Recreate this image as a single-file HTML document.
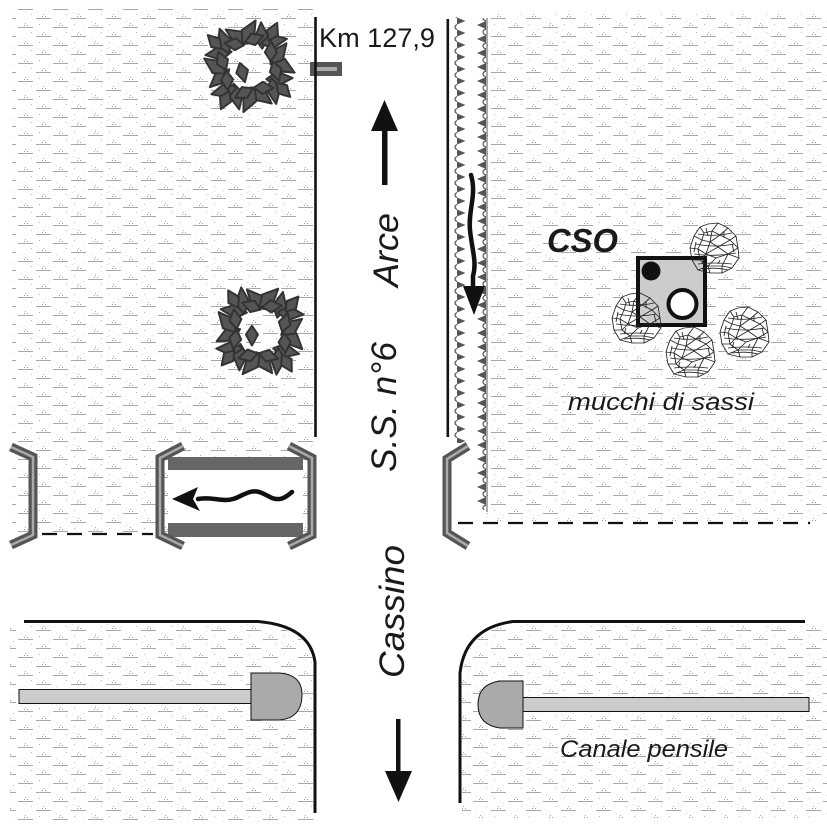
<!DOCTYPE html>
<html>
<head>
<meta charset="utf-8">
<style>
  html,body{margin:0;padding:0;background:#fff;}
  svg{display:block;}
  text{font-family:"Liberation Sans", Arial, sans-serif; fill:#1a1a1a;}
</style>
</head>
<body>
<svg xmlns="http://www.w3.org/2000/svg" width="827" height="827" viewBox="0 0 827 827">
  <defs>
    <pattern id="g" width="35" height="18" patternUnits="userSpaceOnUse">
      <rect x="18" y="9" width="15" height="1" fill="#a8a8a8"/>
      <rect x="1" y="0" width="15" height="1" fill="#a8a8a8"/>
      <rect x="24" y="7" width="1" height="1" fill="#999"/>
      <rect x="25" y="5" width="1" height="1" fill="#aaa"/>
      <rect x="27" y="7" width="1" height="1" fill="#999"/>
      <rect x="7" y="16" width="1" height="1" fill="#999"/>
      <rect x="8" y="14" width="1" height="1" fill="#aaa"/>
      <rect x="10" y="16" width="1" height="1" fill="#999"/>
      <rect x="4" y="6" width="1" height="1" fill="#bbb"/>
      <rect x="31" y="14" width="1" height="1" fill="#bbb"/>
      <rect x="13" y="11" width="1" height="1" fill="#ddd"/>
      <rect x="21" y="3" width="1" height="1" fill="#ddd"/>
      <rect x="2" y="12" width="1" height="1" fill="#ddd"/>
    </pattern>
    <pattern id="sl" x="450" y="15" width="20" height="12" patternUnits="userSpaceOnUse">
      <polygon points="7,2.5 15.5,6 7,9.5" fill="#555"/>
      <path d="M7,9.5 Q5,10.5 5,12 M5,0 Q5,1.5 7,2.5" fill="none" stroke="#555" stroke-width="1.2"/>
    </pattern>
    <pattern id="sr" x="474" y="18" width="14" height="14" patternUnits="userSpaceOnUse">
      <polygon points="12,3 3,7 12,11" fill="#555"/>
      <path d="M12,11 Q9,12 9,14 M9,0 Q9,2 12,3" fill="none" stroke="#555" stroke-width="1.2"/>
    </pattern>
    <path id="lf" d="M-12,0 L-2,-6.5 L12,0 L-2,6.5 Z" fill="#555" stroke="#333" stroke-width="1.8" stroke-linejoin="round"/>
    <path id="ls" d="M-9,0 L-1,-5.5 L9,0 L-1,5.5 Z" fill="#555" stroke="#333" stroke-width="1.8" stroke-linejoin="round"/>
    <g id="tree">
      <use href="#lf" transform="rotate(0) translate(31,0) rotate(30)"/>
      <use href="#lf" transform="rotate(22.5) translate(30,0) rotate(-25)"/>
      <use href="#lf" transform="rotate(45) translate(32,0) rotate(35)"/>
      <use href="#lf" transform="rotate(67.5) translate(29,0) rotate(-30)"/>
      <use href="#lf" transform="rotate(90) translate(31,0) rotate(25)"/>
      <use href="#lf" transform="rotate(112.5) translate(30,0) rotate(-35)"/>
      <use href="#lf" transform="rotate(135) translate(32,0) rotate(30)"/>
      <use href="#lf" transform="rotate(157.5) translate(29,0) rotate(-20)"/>
      <use href="#lf" transform="rotate(180) translate(31,0) rotate(35)"/>
      <use href="#lf" transform="rotate(202.5) translate(30,0) rotate(-30)"/>
      <use href="#lf" transform="rotate(225) translate(32,0) rotate(25)"/>
      <use href="#lf" transform="rotate(247.5) translate(29,0) rotate(-35)"/>
      <use href="#lf" transform="rotate(270) translate(31,0) rotate(30)"/>
      <use href="#lf" transform="rotate(292.5) translate(30,0) rotate(-25)"/>
      <use href="#lf" transform="rotate(315) translate(32,0) rotate(35)"/>
      <use href="#lf" transform="rotate(337.5) translate(29,0) rotate(-30)"/>
      <use href="#ls" transform="rotate(11) translate(25,0) rotate(60)"/>
      <use href="#ls" transform="rotate(56) translate(24,0) rotate(-55)"/>
      <use href="#ls" transform="rotate(101) translate(25,0) rotate(50)"/>
      <use href="#ls" transform="rotate(146) translate(24,0) rotate(-60)"/>
      <use href="#ls" transform="rotate(191) translate(25,0) rotate(55)"/>
      <use href="#ls" transform="rotate(236) translate(24,0) rotate(-50)"/>
      <use href="#ls" transform="rotate(281) translate(25,0) rotate(60)"/>
      <use href="#ls" transform="rotate(326) translate(24,0) rotate(-55)"/>
      <use href="#ls" transform="rotate(35) translate(38,0) rotate(10)"/>
      <use href="#ls" transform="rotate(125) translate(38,0) rotate(-10)"/>
      <use href="#ls" transform="rotate(215) translate(38,0) rotate(10)"/>
      <use href="#ls" transform="rotate(305) translate(38,0) rotate(-10)"/>
      <use href="#ls" transform="translate(-6,6) rotate(75)"/>
    </g>
    <g id="pileB">
      <path d="M-20,-12 L-14,-21 L-6,-24 L4,-25 L14,-20 L22,-12 L24,0 L25,10 L18,20 L8,25 L-4,25 L-16,22 L-22,12 L-24,0 Z" fill="#fff"/>
    </g>
    <g id="pileS" fill="none" stroke="#222" stroke-width="0.85" stroke-linejoin="round">
      <path d="M-20,-12 L-14,-21 L-6,-24 L4,-25 L14,-20 L22,-12 L24,0 L25,10 L18,20 L8,25 L-4,25 L-16,22 L-22,12 L-24,0 Z"/>
      <path d="M-14,-21 L-10,-15 L-2,-17 L4,-25 M-2,-17 L6,-13 L14,-20 M6,-13 L16,-8 L22,-12"/>
      <path d="M-20,-12 L-12,-8 L-10,-15 M-12,-8 L-4,-6 L-2,-17 M-4,-6 L6,-13 M-4,-6 L4,-1 L16,-8 L24,0"/>
      <path d="M-24,0 L-16,1 L-12,-8 M-16,1 L-8,6 L-4,-6 M-8,6 L4,-1 M-8,6 L2,10 L14,6 L4,-1 M14,6 L24,0"/>
      <path d="M-22,12 L-14,12 L-16,1 M-14,12 L-8,6 M-14,12 L-6,18 L2,10 M-6,18 L8,18 L14,6 M8,18 L18,20 M14,6 L25,10"/>
      <path d="M-16,22 L-6,18 M-4,25 L-6,18 M8,25 L8,18"/>
      <path d="M-18,-4 Q0,0 20,-4 M-20,6 Q0,9 22,5 M-16,16 Q0,14 18,16 M-16,-14 Q0,-11 18,-15 M-12,21 Q2,19 14,22"/>
      <path d="M-8,-20 L-6,-12 M10,-16 L10,-10 M-18,-6 L-20,4 M18,-4 L20,4 M-10,10 L-12,16 M6,12 L4,16"/>
    </g>
  </defs>

  <rect width="827" height="827" fill="#fff"/>

  <rect x="12" y="8" width="301" height="525" fill="url(#g)"/>
  <rect x="487" y="14" width="340" height="508" fill="url(#g)"/>
  <path d="M10,624 L258,624 Q308,628 313,662 L313,822 L10,822Z" fill="url(#g)"/>
  <path d="M462,675 Q467,630 513,624 L827,624 L827,818 L462,818Z" fill="url(#g)"/>

  <rect x="450" y="17" width="20" height="426" fill="url(#sl)"/>
  <rect x="474" y="18" width="14" height="492" fill="url(#sr)"/>
  <line x1="487" y1="18" x2="487" y2="512" stroke="#555" stroke-width="1"/>

  <use href="#tree" transform="translate(249,66) scale(1.1)"/>
  <use href="#tree" transform="translate(260,331) rotate(15) scale(1.1)"/>

  <rect x="310" y="62" width="32" height="14" fill="#555"/>
  <rect x="316" y="67" width="21" height="4" fill="#aaa"/>

  <line x1="315.5" y1="17" x2="315.5" y2="437" stroke="#111" stroke-width="2.6"/>
  <line x1="447.8" y1="19" x2="447.8" y2="437" stroke="#111" stroke-width="2.6"/>

  <text x="319" y="47" font-size="26.5" textLength="116" lengthAdjust="spacingAndGlyphs">Km 127,9</text>

  <rect x="382" y="128" width="5.5" height="57" fill="#111"/>
  <polygon points="384.5,100 371,131 398,131" fill="#111"/>

  <text transform="translate(398,287) rotate(-90)" font-size="35" font-style="italic" textLength="74" lengthAdjust="spacingAndGlyphs">Arce</text>
  <text transform="translate(396,472) rotate(-90)" font-size="35" font-style="italic" textLength="130" lengthAdjust="spacingAndGlyphs">S.S. n°6</text>
  <text transform="translate(404,678) rotate(-90)" font-size="35" font-style="italic" textLength="133" lengthAdjust="spacingAndGlyphs">Cassino</text>

  <rect x="396" y="719" width="4.5" height="56" fill="#111"/>
  <polygon points="385,771 412,771 398.5,802" fill="#111"/>

  <path d="M471,175 C477,195 468,210 470,230 C472,250 477,262 473,276 L473,292" fill="none" stroke="#111" stroke-width="4.5" stroke-linecap="round"/>
  <polygon points="463,286 485,286 474,315" fill="#111"/>

  <line x1="42" y1="534" x2="153" y2="534" stroke="#111" stroke-width="2.2" stroke-dasharray="15,10"/>
  <line x1="458" y1="523" x2="810" y2="523" stroke="#111" stroke-width="2.2" stroke-dasharray="15,10"/>

  <rect x="168" y="457" width="135" height="80" fill="#fff"/>
  <rect x="168" y="457" width="135" height="13" fill="#666"/>
  <rect x="168" y="523" width="135" height="14" fill="#666"/>
  <path d="M292,492 C285,498 280,501 272,498 C262,493 258,490 250,492 C240,495 236,500 226,500 C216,500 210,497 198,499" fill="none" stroke="#111" stroke-width="4.5" stroke-linecap="round"/>
  <polygon points="172,499 198,487 193,499 200,511" fill="#111"/>

  <g fill="none" stroke-linejoin="miter">
    <polyline points="11,447 33,457 33,535 11,545" stroke="#555" stroke-width="9"/>
    <polyline points="11,447 33,457 33,535 11,545" stroke="#aaa" stroke-width="2.5"/>
    <polyline points="183,446 160,458 160,535 183,546" stroke="#555" stroke-width="9"/>
    <polyline points="183,446 160,458 160,535 183,546" stroke="#aaa" stroke-width="2.5"/>
    <polyline points="289,446 312,458 312,535 289,546" stroke="#555" stroke-width="9"/>
    <polyline points="289,446 312,458 312,535 289,546" stroke="#aaa" stroke-width="2.5"/>
    <polyline points="468,446 447,459 447,533 468,546" stroke="#555" stroke-width="9"/>
    <polyline points="468,446 447,459 447,533 468,546" stroke="#aaa" stroke-width="2.5"/>
  </g>

  <use href="#pileB" transform="translate(714,248)"/>
  <use href="#pileB" transform="translate(636,318)"/>
  <use href="#pileB" transform="translate(690,352)"/>
  <use href="#pileB" transform="translate(744,332)"/>
  <rect x="638" y="258" width="67" height="67" fill="#ccc" stroke="#111" stroke-width="4"/>
  <circle cx="651" cy="271" r="9.5" fill="#111"/>
  <circle cx="682.5" cy="304" r="14" fill="#fff" stroke="#111" stroke-width="4"/>
  <use href="#pileS" transform="translate(714,248)"/>
  <use href="#pileS" transform="translate(636,318)"/>
  <use href="#pileS" transform="translate(690,352)"/>
  <use href="#pileS" transform="translate(744,332)"/>
  <text x="547" y="252" font-size="33" font-weight="bold" font-style="italic" textLength="71" lengthAdjust="spacingAndGlyphs">CSO</text>
  <text x="568" y="410" font-size="24" font-style="italic" textLength="186" lengthAdjust="spacingAndGlyphs">mucchi di sassi</text>

  <path d="M24,621.5 L258,621.5 Q310,626 315,662 L315,813" fill="none" stroke="#111" stroke-width="3"/>
  <path d="M460,803 L460,673 Q465,628 513,621.5 L805,621.5" fill="none" stroke="#111" stroke-width="3"/>

  <rect x="19" y="689.5" width="233" height="14" fill="#ccc" stroke="#111" stroke-width="1"/>
  <path d="M251,673 L280,673 Q303,675 302,696.5 Q301,718 280,720 L251,720 Z" fill="#aaa" stroke="#111" stroke-width="1"/>
  <rect x="523" y="697.5" width="286" height="14" fill="#ccc" stroke="#111" stroke-width="1"/>
  <path d="M523,681 L500,681 Q478,684 478,704.5 Q478,725 500,728 L523,728 Z" fill="#aaa" stroke="#111" stroke-width="1"/>

  <text x="560" y="757" font-size="24" font-style="italic" textLength="168" lengthAdjust="spacingAndGlyphs">Canale pensile</text>
</svg>
</body>
</html>
